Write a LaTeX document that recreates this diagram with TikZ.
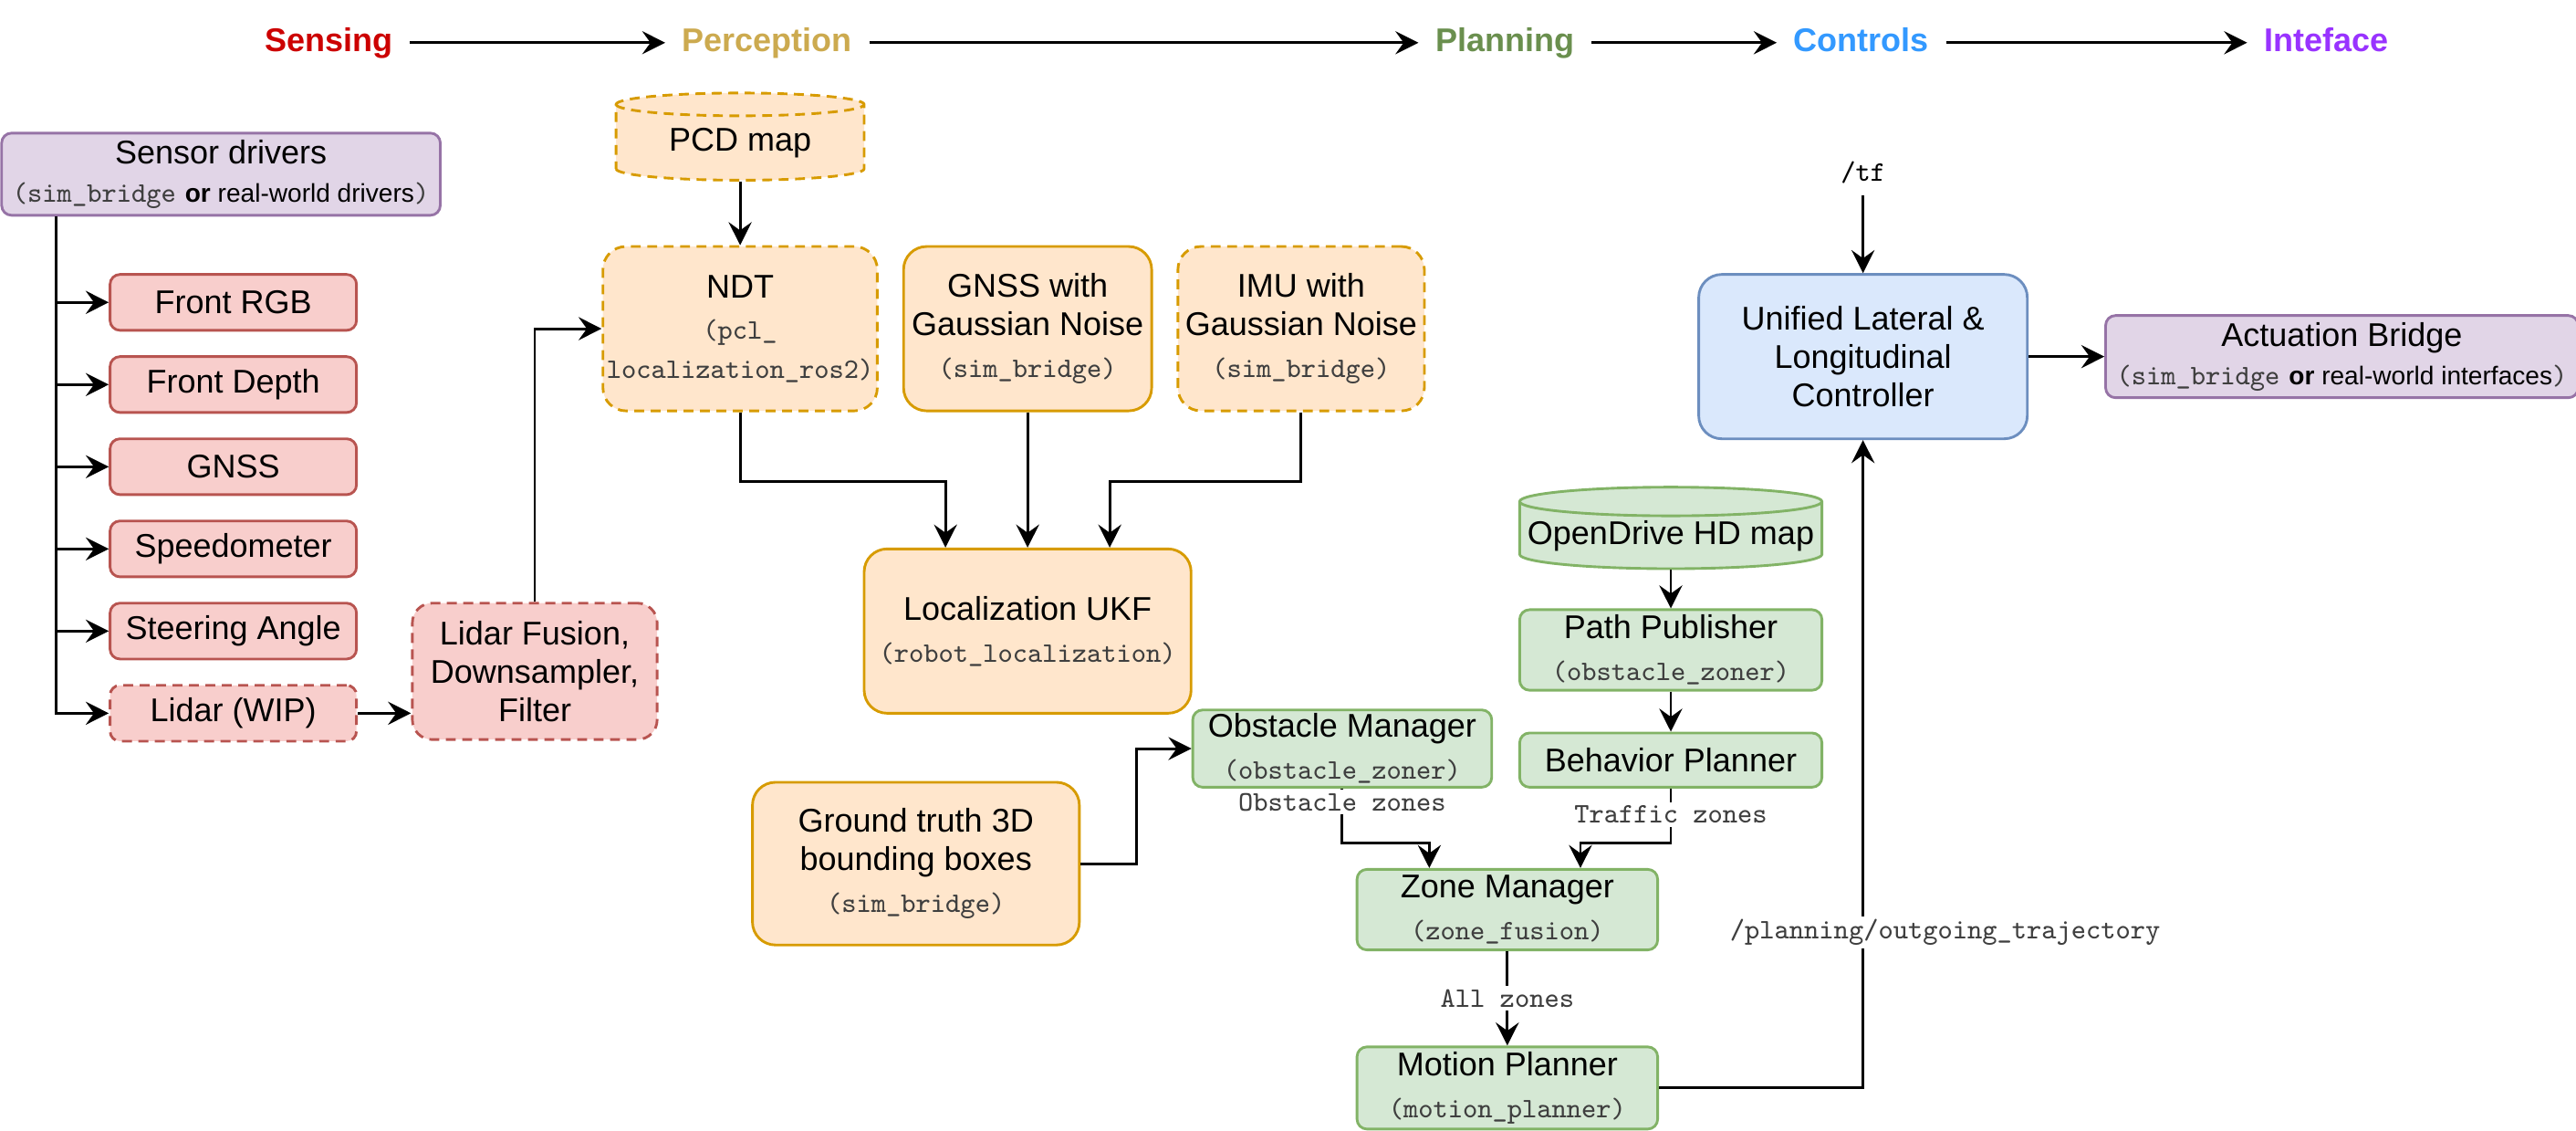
\documentclass[tikz,border=0pt]{standalone}
\usepackage{fontspec}
\setmainfont{Liberation Sans}
\usetikzlibrary{positioning,calc,arrows.meta,shapes.geometric}

\definecolor{RedFill}{HTML}{F8CECC}
\definecolor{RedLine}{HTML}{B85450}
\definecolor{OrangeFill}{HTML}{FFE6CC}
\definecolor{OrangeLine}{HTML}{D79B00}
\definecolor{GreenFill}{HTML}{D5E8D4}
\definecolor{GreenLine}{HTML}{82B366}
\definecolor{BlueFill}{HTML}{DAE8FC}
\definecolor{BlueLine}{HTML}{6C8EBF}
\definecolor{PurpleFill}{HTML}{E1D5E7}
\definecolor{PurpleLine}{HTML}{9673A6}
\definecolor{PkgGray}{HTML}{3F3F3F}
\definecolor{SenseRed}{HTML}{CC0000}
\definecolor{PerceptGold}{HTML}{CCAA4F}
\definecolor{PlanGreen}{HTML}{6A8F4E}
\definecolor{CtrlBlue}{HTML}{3399FF}
\definecolor{IfacePurple}{HTML}{9933FF}

% package names in grey typewriter, small sans for the "or ..." part
\newcommand{\pkgname}[1]{{\ttfamily\fontsize{8.6}{10}\selectfont\color{PkgGray}#1}}
\newcommand{\subtext}[1]{{\fontsize{7.8}{9}\selectfont#1}}

\tikzset{
    every node/.style={font=\fontsize{10}{11.75}\selectfont},
    basebox/.style={line width=0.8pt, align=center, rounded corners=3pt, inner ysep=1pt},
    redbox/.style={basebox, draw=RedLine, fill=RedFill},
    orangebox/.style={basebox, draw=OrangeLine, fill=OrangeFill, rounded corners=7pt, inner xsep=1pt},
    greenbox/.style={basebox, draw=GreenLine, fill=GreenFill},
    bluebox/.style={basebox, draw=BlueLine, fill=BlueFill, rounded corners=7pt},
    purplebox/.style={basebox, draw=PurpleLine, fill=PurpleFill},
    wip/.style={dash pattern=on 3pt off 2pt},
    mapcyl/.style={cylinder, shape border rotate=90, line width=0.8pt, align=center, inner xsep=0pt},
    stage/.style={font=\bfseries\fontsize{10}{12}\selectfont, text height=7.2pt, text depth=2pt, inner sep=5pt},
    arrow/.style={-{Stealth[length=7pt, width=7pt, inset=2.5pt]}, line width=0.8pt},
    edgelbl/.style={fill=white, inner sep=1pt, font=\ttfamily\fontsize{8.6}{10}\selectfont, text=PkgGray},
}

\begin{document}
\begin{tikzpicture}[x=0.5pt, y=-0.5pt]
\useasboundingbox (0,0) rectangle (1568,688);

% stages along the top
\node[stage, text=SenseRed] (sense) at (200,26) {Sensing};
\node[stage, text=PerceptGold] (percept) at (467,26) {Perception};
\node[stage, text=PlanGreen] (plan) at (916,26) {Planning};
\node[stage, text=CtrlBlue] (ctrlstage) at (1133,26) {Controls};
\node[stage, text=IfacePurple] (iface) at (1416,26) {Inteface};
\foreach \a/\b in {sense/percept, percept/plan, plan/ctrlstage, ctrlstage/iface}{
  \draw[arrow] (\a) -- (\b);
}

% sensing: drivers and the sensors hanging off them
\node[purplebox, minimum width=133.5pt, minimum height=25pt] (drivers) at (134.5,106)
  {Sensor drivers\\\pkgname{(sim\_bridge} \subtext{\textbf{or} real-world drivers}\pkgname{)}};

\foreach \row/\text in {1/Front RGB, 2/Front Depth, 3/GNSS, 4/Speedometer, 5/Steering Angle}{
  \node[redbox, minimum width=75pt, minimum height=17pt] (sensor-\row) at (142,134+50*\row) {\text};
}
\node[redbox, wip, minimum width=75pt, minimum height=17pt] (sensor-6) at (142,434) {Lidar (WIP)};

\foreach \row in {1,...,6}{
  \draw[arrow] ([xshift=17pt]drivers.south west) |- (sensor-\row.west);
}

\node[redbox, wip, rounded corners=6pt, minimum width=74.5pt, minimum height=41.5pt] (fusion) at (325.5,408.5)
  {Lidar Fusion,\\Downsampler,\\Filter};

% perception
\node[mapcyl, wip, aspect=0.16, draw=OrangeLine, fill=OrangeFill, minimum width=75.5pt, minimum height=23.5pt] (pcd) at (450.5,87) {PCD map};

\node[orangebox, wip, minimum width=83.5pt, minimum height=50pt] (ndt) at (450.5,200)
  {NDT\\[1pt]\pkgname{(pcl\_}\\\pkgname{localization\_ros2)}};
\node[orangebox, minimum width=75.5pt, minimum height=50pt] (gnss) at (625.5,200)
  {GNSS with\\Gaussian Noise\\[1pt]\pkgname{(sim\_bridge)}};
\node[orangebox, wip, minimum width=75pt, minimum height=50pt] (imu) at (792,200)
  {IMU with\\Gaussian Noise\\[1pt]\pkgname{(sim\_bridge)}};

\node[orangebox, minimum width=99.5pt, minimum height=50pt] (ukf) at (625.5,384)
  {Localization UKF\\[1pt]\pkgname{(robot\_localization)}};
\node[orangebox, minimum width=99.5pt, minimum height=49.5pt] (gt) at (557.5,525.5)
  {Ground truth 3D\\bounding boxes\\[1pt]\pkgname{(sim\_bridge)}};

\draw[arrow] (sensor-6.east) -- (sensor-6.east -| fusion.west);
\draw[arrow] (fusion.north) |- (ndt.west);
\draw[arrow] (pcd) -- (ndt);
\draw[arrow] (ndt.south) -- ++(0,42) -| ([xshift=-25pt]ukf.north);
\draw[arrow] (gnss.south) -- (ukf.north);
\draw[arrow] (imu.south) -- ++(0,42) -| ([xshift=25pt]ukf.north);

% planning
\node[mapcyl, aspect=0.1, inner ysep=1pt, draw=GreenLine, fill=GreenFill, minimum width=92pt, minimum height=20pt] (hdmap) at (1017,326) {OpenDrive HD map};
\node[greenbox, minimum width=92pt, minimum height=24.5pt] (pathpub) at (1017,395.5)
  {Path Publisher\\[1pt]\pkgname{(obstacle\_zoner)}};
\node[greenbox, minimum width=92pt, minimum height=16.5pt] (behav) at (1017,462.5) {Behavior Planner};
\node[greenbox, minimum width=91pt, minimum height=23.5pt] (obsmgr) at (817,455.5)
  {Obstacle Manager\\[1pt]\pkgname{(obstacle\_zoner)}};
\node[greenbox, minimum width=91.5pt, minimum height=24.5pt] (zonemgr) at (917.5,553.5)
  {Zone Manager\\[1pt]\pkgname{(zone\_fusion)}};
\node[greenbox, minimum width=91.5pt, minimum height=25pt] (motion) at (917.5,662)
  {Motion Planner\\[1pt]\pkgname{(motion\_planner)}};

\draw[arrow] (gt.east) -- ++(34,0) |- (obsmgr.west);
\draw[arrow] (hdmap) -- (pathpub);
\draw[arrow] (pathpub) -- (behav);
\draw[arrow] (obsmgr.south) -- node[edgelbl, pos=0.25] {Obstacle zones} ++(0,33) -| ([xshift=-23.75pt]zonemgr.north);
\draw[arrow] (behav.south) -- node[edgelbl, pos=0.48] {Traffic zones} ++(0,33) -| ([xshift=22.25pt]zonemgr.north);
\draw[arrow] (zonemgr) -- node[edgelbl] {All zones} (motion);

% controls and interface
\node[font=\ttfamily\fontsize{8.6}{10}\selectfont] (tf) at (1134,105) {/tf};
\node[bluebox, minimum width=100pt, minimum height=50pt] (ctrl) at (1134,217)
  {Unified Lateral \&\\Longitudinal\\Controller};
\node[purplebox, minimum width=141.5pt, minimum height=25pt] (actbridge) at (1425.5,217)
  {Actuation Bridge\\\pkgname{(sim\_bridge} \subtext{\textbf{or} real-world interfaces}\pkgname{)}};

\draw[arrow] (motion.east) -| node[edgelbl, pos=0.62, xshift=25pt] {/planning/outgoing\_trajectory} (ctrl.south);
\draw[arrow] (tf) -- (ctrl);
\draw[arrow] (ctrl) -- (actbridge);

\end{tikzpicture}
\end{document}
